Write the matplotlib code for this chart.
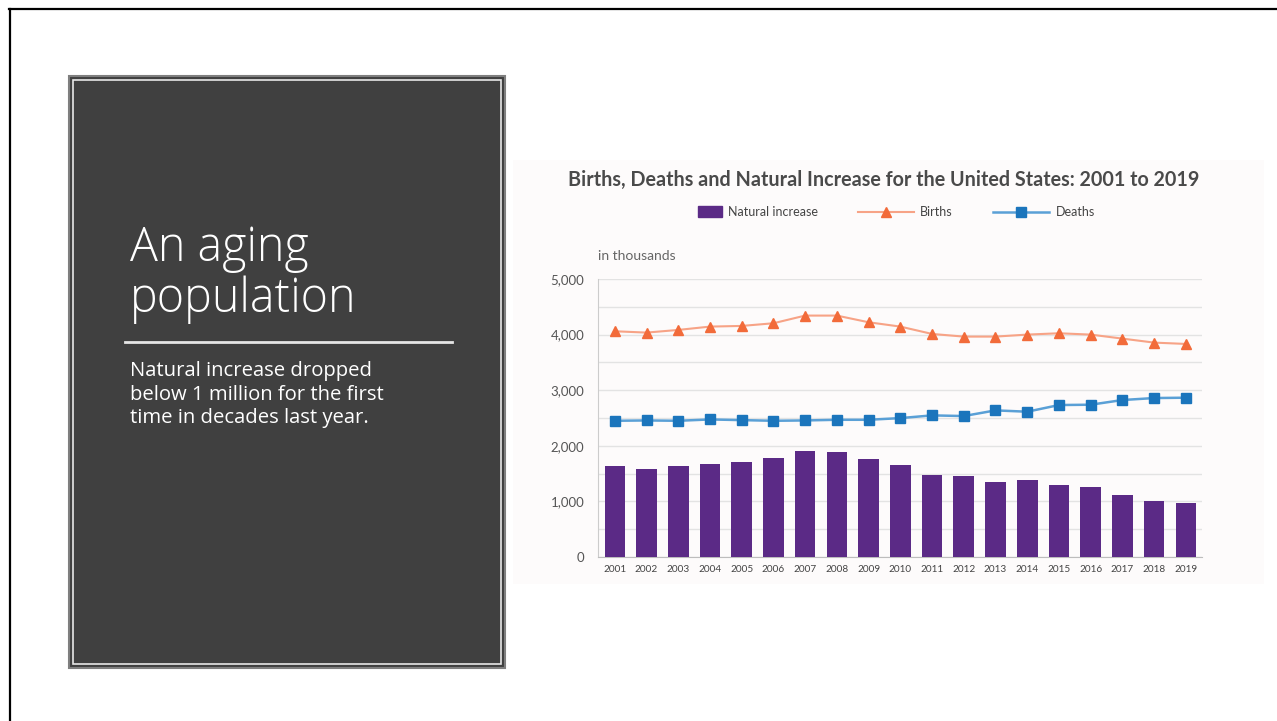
import matplotlib
matplotlib.use("Agg")
import matplotlib.pyplot as plt
import matplotlib.patches as mpatches
from matplotlib.lines import Line2D
from matplotlib.legend_handler import HandlerPatch
import numpy as np

years = [str(y) for y in range(2001, 2020)]
births = [4060, 4036, 4084, 4144, 4156, 4204, 4342, 4342, 4222, 4144,
          4012, 3964, 3964, 4000, 4024, 4000, 3928, 3856, 3832]
deaths = [2450, 2456, 2450, 2474, 2462, 2450, 2456, 2468, 2468, 2498,
          2547, 2535, 2637, 2613, 2733, 2739, 2823, 2859, 2865]
natural = [1634, 1586, 1634, 1676, 1706, 1772, 1898, 1886, 1760, 1646,
           1477, 1453, 1345, 1387, 1303, 1267, 1117, 1009, 967]
yticks = [0, 1000, 2000, 3000, 4000, 5000]

W, H = 1277, 721
fig = plt.figure(figsize=(W / 100, H / 100), dpi=100)
fig.patch.set_facecolor("white")

# slide decorations in pixel coordinates
bg = fig.add_axes([0, 0, 1, 1], zorder=0)
bg.set_xlim(0, W)
bg.set_ylim(H, 0)
bg.axis("off")

bg.plot([9, W], [9, 9], color="black", lw=1.6)
bg.plot([10, 10], [9, H], color="black", lw=1.6)

bg.add_patch(mpatches.Rectangle((69, 76), 436, 592, facecolor="#404040",
                                edgecolor="#7f7f7f", lw=1.5))
bg.add_patch(mpatches.Rectangle((73, 80), 428, 584, facecolor="none",
                                edgecolor="#e8e8e8", lw=1.2))
bg.text(130, 261, "An aging", color="white", fontsize=33.5, family="Open Sans",
        fontweight="light", va="baseline")
bg.text(130, 312, "population", color="white", fontsize=33.5, family="Open Sans",
        fontweight="light", va="baseline")
bg.plot([125, 452], [342, 342], color="#e6e6e6", lw=2)
body = "Natural increase dropped\nbelow 1 million for the first\ntime in decades last year."
bg.text(130, 361, body, color="white", fontsize=14.6, family="Open Sans",
        va="top", linespacing=1.24)

# chart image backdrop
bg.add_patch(mpatches.Rectangle((513, 160), 751, 424, facecolor="#fdfbfb",
                                edgecolor="none"))

# chart
ax = fig.add_axes([598 / W, 1 - 557 / H, (1202 - 598) / W, (557 - 279) / H],
                  zorder=2)
ax.patch.set_alpha(0)
x = np.arange(len(years))
ax.bar(x, natural, width=0.65, color="#5b2a86", zorder=3)
ax.plot(x, births, color="#f7a386", lw=1.5, marker="^", ms=7.5,
        markerfacecolor="#f26b3a", markeredgecolor="#f26b3a", zorder=4)
ax.plot(x, deaths, color="#5aa0d6", lw=1.8, marker="s", ms=7,
        markerfacecolor="#1b75bc", markeredgecolor="#1b75bc", zorder=4)

ax.set_xlim(-0.53, len(years) - 0.49)
ax.set_ylim(0, 5000)
ax.set_yticks(yticks)
ax.set_yticklabels([f"{v:,}" for v in yticks])
ax.set_yticks(np.arange(0, 5001, 500), minor=True)
ax.grid(axis="y", which="both", color="#e3e3e3", lw=1, zorder=0)
ax.set_xticks(x)
ax.set_xticklabels(years)
ax.tick_params(axis="y", length=0, pad=10, labelsize=9.5, labelcolor="#555555")
ax.tick_params(axis="y", which="minor", length=0)
ax.tick_params(axis="x", length=0, pad=6, labelsize=7.2, labelcolor="#444444")
for lab in ax.get_xticklabels() + ax.get_yticklabels():
    lab.set_family("Lato")
for side in ["top", "right"]:
    ax.spines[side].set_visible(False)
ax.spines["left"].set_color("#cccccc")
ax.spines["bottom"].set_color("#bdbdbd")

fig.text(884 / W, 1 - 180 / H, "Births, Deaths and Natural Increase for the United States: 2001 to 2019",
         ha="center", va="center", fontsize=14.2, fontweight="bold",
         family="Lato", color="#4a4a4a")
fig.text(598 / W, 1 - 256 / H, "in thousands", ha="left", va="center",
         fontsize=10, family="Lato", color="#666666")


def short_rect(legend, orig_handle, xdescent, ydescent, width, height, fontsize):
    return mpatches.Rectangle((-xdescent + width * 0.58, -ydescent - 1),
                              width * 0.42, height + 2)


handles = [
    mpatches.Patch(color="#5b2a86", label="Natural increase"),
    Line2D([], [], color="#f7a386", lw=1.5, marker="^", ms=7.5,
           markerfacecolor="#f26b3a", markeredgecolor="#f26b3a", label="Births"),
    Line2D([], [], color="#5aa0d6", lw=1.8, marker="s", ms=7,
           markerfacecolor="#1b75bc", markeredgecolor="#1b75bc", label="Deaths"),
]
leg = fig.legend(handles=handles, ncol=3, loc="center",
                 bbox_to_anchor=(880 / W, 1 - 212 / H), frameon=False,
                 handlelength=4.5, handletextpad=0.5, columnspacing=3.2,
                 prop={"family": "Lato", "size": 9},
                 handler_map={mpatches.Patch: HandlerPatch(patch_func=short_rect)})
for t in leg.get_texts():
    t.set_color("#444444")

fig.savefig("out.png", dpi=100)
